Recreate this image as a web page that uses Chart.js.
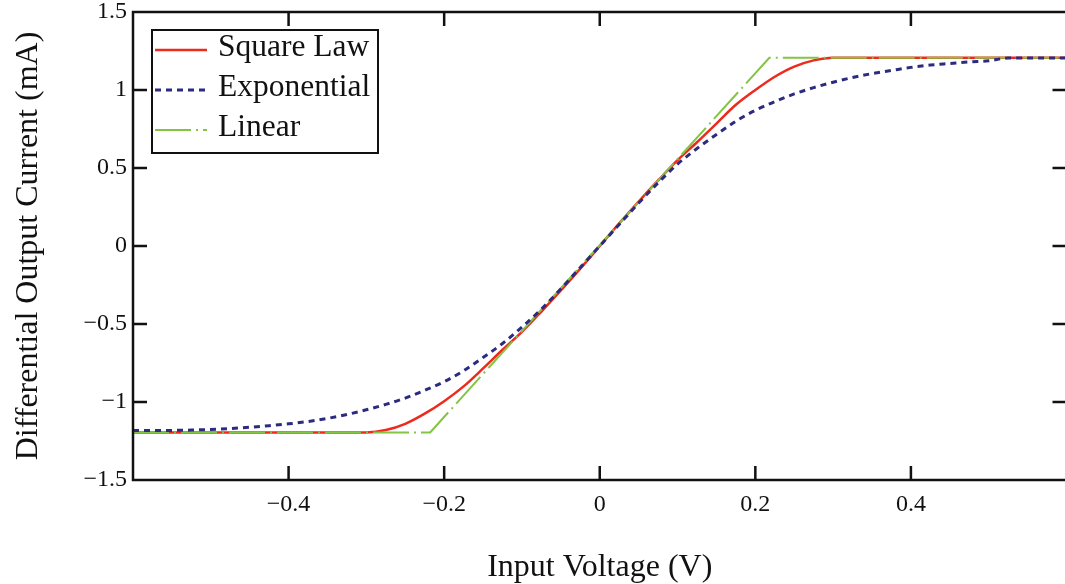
<!DOCTYPE html>
<html>
<head>
<meta charset="utf-8">
<script src="https://cdn.jsdelivr.net/npm/chart.js@4/dist/chart.umd.min.js"></script>
<style>
  html, body { margin: 0; padding: 0; background: #fff; overflow: hidden; }
  #wrap { width: 1068px; height: 584px; }
</style>
</head>
<body>
<div id="wrap"><canvas id="chart" width="1068" height="584"></canvas></div>
<script>
// input voltage (V)
const voltage = [
  -0.6, -0.575, -0.55, -0.525, -0.5, -0.475, -0.45, -0.425, -0.4, -0.375, -0.35, -0.325,
  -0.3, -0.275, -0.25, -0.225, -0.2, -0.175, -0.15, -0.125, -0.1, -0.075, -0.05, -0.025,
  0, 0.025, 0.05, 0.075, 0.1, 0.125, 0.15, 0.175, 0.2, 0.225, 0.25, 0.275,
  0.3, 0.325, 0.35, 0.375, 0.4, 0.425, 0.45, 0.475, 0.5, 0.525, 0.55, 0.575, 0.6
];
// differential output current (mA)
const squareLaw = [
  -1.195, -1.195, -1.195, -1.195, -1.195, -1.195, -1.195, -1.195, -1.195, -1.195, -1.195, -1.195,
  -1.195, -1.18, -1.14, -1.075, -0.995, -0.9, -0.785, -0.665, -0.55, -0.42, -0.285, -0.145,
  0, 0.145, 0.285, 0.42, 0.55, 0.665, 0.785, 0.905, 1.0, 1.085, 1.15, 1.19,
  1.207, 1.207, 1.207, 1.207, 1.207, 1.207, 1.207, 1.207, 1.207, 1.207, 1.207, 1.207, 1.207
];
const exponential = [
  -1.182, -1.182, -1.182, -1.18, -1.176, -1.17, -1.162, -1.152, -1.14, -1.125, -1.105, -1.08,
  -1.05, -1.015, -0.975, -0.925, -0.87, -0.8, -0.715, -0.625, -0.52, -0.405, -0.275, -0.138,
  0, 0.138, 0.275, 0.405, 0.525, 0.625, 0.715, 0.8, 0.87, 0.925, 0.975, 1.015,
  1.05, 1.08, 1.105, 1.125, 1.145, 1.16, 1.17, 1.18, 1.187, 1.205, 1.205, 1.205, 1.205
];
const linearV = [-0.6, -0.218, 0.218, 0.6];
const linearI = [-1.195, -1.195, 1.207, 1.207];

const xTicks = [-0.4, -0.2, 0, 0.2, 0.4];
const yTicks = [-1.5, -1, -0.5, 0, 0.5, 1, 1.5];

const fmt = v => (v < 0 ? '\u2212' + Math.abs(v) : String(v));
const serif = '"Liberation Serif", "DejaVu Serif", serif';

const pts = (xs, ys) => xs.map((x, i) => ({ x: x, y: ys[i] }));

// frame with inward ticks on all four sides
const frame = {
  id: 'frame',
  afterDraw(chart) {
    const { ctx, chartArea: a, scales } = chart;
    ctx.save();
    ctx.strokeStyle = '#111';
    ctx.lineWidth = 2.5;
    ctx.strokeRect(a.left, a.top, a.right - a.left, a.bottom - a.top);
    const len = 14;
    ctx.beginPath();
    xTicks.forEach(v => {
      const px = scales.x.getPixelForValue(v);
      ctx.moveTo(px, a.bottom); ctx.lineTo(px, a.bottom - len);
      ctx.moveTo(px, a.top); ctx.lineTo(px, a.top + len);
    });
    yTicks.slice(1, -1).forEach(v => {
      const py = scales.y.getPixelForValue(v);
      ctx.moveTo(a.left, py); ctx.lineTo(a.left + len, py);
      ctx.moveTo(a.right, py); ctx.lineTo(a.right - len, py);
    });
    ctx.stroke();
    ctx.restore();
  }
};

// boxed legend in the upper left of the plot
const boxLegend = {
  id: 'boxLegend',
  afterDraw(chart) {
    const { ctx } = chart;
    const x0 = 152, y0 = 30, w = 226, h = 123;
    ctx.save();
    ctx.fillStyle = '#fff';
    ctx.fillRect(x0, y0, w, h);
    ctx.strokeStyle = '#111';
    ctx.lineWidth = 2;
    ctx.strokeRect(x0, y0, w, h);
    const rows = [50, 90, 130];
    chart.data.datasets.forEach((ds, i) => {
      const y = rows[i];
      ctx.strokeStyle = ds.borderColor;
      ctx.lineWidth = ds.borderWidth;
      ctx.setLineDash(ds.borderDash || []);
      ctx.beginPath();
      ctx.moveTo(155, y);
      ctx.lineTo(207, y);
      ctx.stroke();
      ctx.setLineDash([]);
      ctx.fillStyle = '#111';
      ctx.font = '31.5px ' + serif;
      ctx.textBaseline = 'middle';
      ctx.fillText(ds.label, 218, y - 2);
    });
    ctx.restore();
  }
};

new Chart(document.getElementById('chart'), {
  type: 'line',
  data: {
    datasets: [
      {
        label: 'Square Law',
        data: pts(voltage, squareLaw),
        borderColor: '#ec2a1e',
        borderWidth: 2.5,
        pointRadius: 0,
        cubicInterpolationMode: 'monotone',
        order: 3
      },
      {
        label: 'Exponential',
        data: pts(voltage, exponential),
        borderColor: '#2c2b80',
        borderWidth: 3,
        borderDash: [6, 5],
        pointRadius: 0,
        cubicInterpolationMode: 'monotone',
        order: 1
      },
      {
        label: 'Linear',
        data: pts(linearV, linearI),
        borderColor: '#84c443',
        borderWidth: 2,
        borderDash: [36, 5, 2, 5],
        pointRadius: 0,
        order: 2
      }
    ]
  },
  options: {
    responsive: false,
    animation: false,
    layout: { padding: { top: 12, right: 1.5, left: 0, bottom: 0 } },
    plugins: { legend: { display: false }, tooltip: { enabled: false } },
    scales: {
      x: {
        type: 'linear',
        min: -0.6,
        max: 0.6,
        afterBuildTicks: s => { s.ticks = xTicks.map(v => ({ value: v })); },
        afterFit: s => { s.height = 104; s.paddingLeft = 0; s.paddingRight = 0; },
        grid: { display: false, drawTicks: false },
        border: { display: false },
        ticks: {
          font: { family: serif, size: 24 },
          color: '#111',
          padding: 10,
          maxRotation: 0,
          callback: v => fmt(v)
        },
        title: {
          display: true,
          text: 'Input Voltage (V)',
          font: { family: serif, size: 32, lineHeight: 1.0 },
          color: '#111',
          padding: { top: 0, bottom: 0 }
        }
      },
      y: {
        type: 'linear',
        min: -1.5,
        max: 1.5,
        afterBuildTicks: s => { s.ticks = yTicks.map(v => ({ value: v })); },
        afterFit: s => { s.width = 133; s.paddingTop = 0; s.paddingBottom = 0; },
        grid: { display: false, drawTicks: false },
        border: { display: false },
        ticks: {
          font: { family: serif, size: 24 },
          color: '#111',
          padding: 6,
          callback: v => fmt(v)
        },
        title: {
          display: true,
          text: 'Differential Output Current (mA)',
          font: { family: serif, size: 32 },
          color: '#111',
          padding: { top: 9, bottom: 9 }
        }
      }
    }
  },
  plugins: [frame, boxLegend]
});
</script>
</body>
</html>
